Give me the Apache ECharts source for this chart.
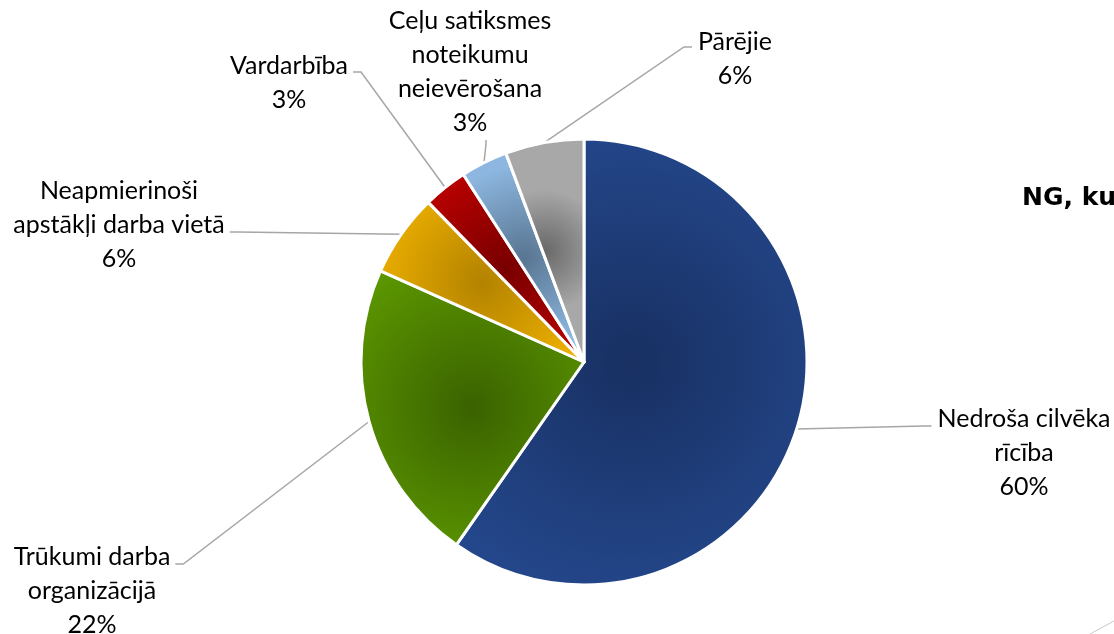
<!DOCTYPE html>
<html>
<head>
<meta charset="utf-8">
<script src="https://cdn.jsdelivr.net/npm/echarts@6/dist/echarts.min.js"></script>
<style>
  html, body { margin: 0; padding: 0; background: #fff; }
  #chart { width: 1114px; height: 634px; }
</style>
</head>
<body>
<div id="chart"></div>
<script>
// categories + shares (in %), clockwise from 12 o'clock
const categories = [
  'Nedroša cilvēka\nrīcība',
  'Trūkumi darba\norganizācijā',
  'Neapmierinoši\napstākļi darba vietā',
  'Vardarbība',
  'Ceļu satiksmes\nnoteikumu\nneievērošana',
  'Pārējie'
];
const shares = [59.7, 22.0, 6.0, 3.2, 3.4, 5.7];

// slice fills: [centre (dark), edge (light)]
const sliceColors = [
  ['#183062', '#25498F'],
  ['#3A6200', '#5E9A00'],
  ['#B38300', '#F2B300'],
  ['#780000', '#C20000'],
  ['#587591', '#8DB7E0'],
  ['#696969', '#A8A8A8']
];

// where each label block sits (centre x, top y) and where the leader meets it
const labelSpots = [
  { x: 1024, y: 402, side: 'left', dy: 24 },
  { x: 92, y: 540, side: 'right', dy: 24 },
  { x: 119, y: 174, side: 'right', dy: 58 },
  { x: 289, y: 49, side: 'right', dy: 23 },
  { x: 470, y: 4, side: 'bottom' },
  { x: 735, y: 25, side: 'left', dy: 22 }
];

const chart = echarts.init(document.getElementById('chart'));

const data = categories.map((name, i) => ({
  name: name,
  value: shares[i],
  itemStyle: {
    color: new echarts.graphic.RadialGradient(0.5, 0.5, 0.75, [
      { offset: 0, color: sliceColors[i][0] },
      { offset: 1, color: sliceColors[i][1] }
    ])
  }
}));

const option = {
  animation: false,
  backgroundColor: '#fff',
  title: {
    text: 'NG, ku',
    left: 1017,
    top: 181,
    textStyle: { fontFamily: 'DejaVu Sans', fontWeight: 'bold', fontSize: 25, color: '#000' }
  },
  graphic: [
    { type: 'line', shape: { x1: 1090, y1: 634, x2: 1114, y2: 621 }, style: { stroke: '#C8C8C8', lineWidth: 1 } }
  ],
  series: [{
    type: 'pie',
    center: [584, 362],
    radius: 223,
    startAngle: 90,
    clockwise: true,
    avoidLabelOverlap: false,
    itemStyle: { borderColor: '#fff', borderWidth: 3 },
    label: {
      show: true,
      position: 'outside',
      formatter: p => p.name + '\n' + Math.round(p.percent) + '%',
      fontFamily: 'Lato',
      fontSize: 25,
      lineHeight: 34,
      color: '#000'
    },
    labelLine: {
      show: true,
      length: 10,
      length2: 10,
      smooth: false,
      lineStyle: { color: '#A6A6A6', width: 1.5 }
    },
    labelLayout: function (params) {
      const s = labelSpots[params.dataIndex];
      const w = params.labelRect.width;
      const h = params.labelRect.height;
      const p0 = params.labelLinePoints[0];
      let end, elbow;
      if (s.side === 'left') {
        end = [s.x - w / 2 - 6, s.y + s.dy];
        elbow = [end[0] - 8, end[1]];
      } else if (s.side === 'right') {
        end = [s.x + w / 2 + 5, s.y + s.dy];
        elbow = [end[0] + 8, end[1]];
      } else {
        end = [s.x + 16, s.y + h];
        elbow = [end[0], end[1] + 4];
      }
      return {
        x: s.x,
        y: s.y,
        align: 'center',
        verticalAlign: 'top',
        labelLinePoints: [p0, elbow, end]
      };
    },
    data: data
  }]
};

chart.setOption(option);
</script>
</body>
</html>
